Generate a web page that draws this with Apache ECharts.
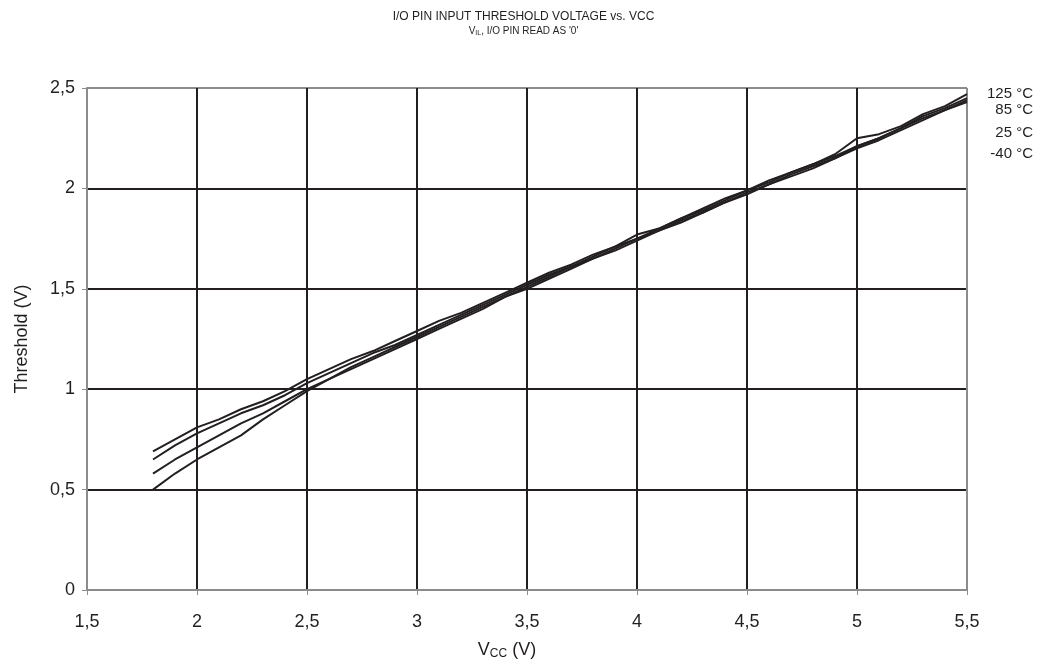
<!DOCTYPE html>
<html>
<head>
<meta charset="utf-8">
<script src="https://cdn.jsdelivr.net/npm/echarts@6/dist/echarts.min.js"></script>
<style>
  html, body { margin: 0; padding: 0; background: #fff; }
  #chart { width: 1047px; height: 669px; }
</style>
</head>
<body>
<div id="chart"></div>
<script>
// supply voltage (V)
var vcc = [1.8, 1.9, 2.0, 2.1, 2.2, 2.3, 2.4, 2.5, 2.6, 2.7, 2.8, 2.9, 3.0, 3.1, 3.2, 3.3, 3.4, 3.5, 3.6,
  3.7, 3.8, 3.9, 4.0, 4.1, 4.2, 4.3, 4.4, 4.5, 4.6, 4.7, 4.8, 4.9, 5.0, 5.1, 5.2, 5.3, 5.4, 5.5];
var temps = ["125 °C", "85 °C", "25 °C", "-40 °C"];
// threshold (V) per temperature
var t125 = [0.69, 0.75, 0.81, 0.85, 0.90, 0.94, 0.99, 1.05, 1.10, 1.15, 1.19, 1.24, 1.29, 1.34, 1.38, 1.43, 1.48, 1.53, 1.58,
  1.62, 1.67, 1.71, 1.77, 1.80, 1.85, 1.90, 1.95, 1.99, 2.04, 2.08, 2.12, 2.16, 2.21, 2.25, 2.30, 2.36, 2.40, 2.45];
var t85 = [0.65, 0.72, 0.78, 0.83, 0.88, 0.92, 0.97, 1.03, 1.08, 1.13, 1.18, 1.22, 1.27, 1.32, 1.37, 1.42, 1.47, 1.52, 1.57,
  1.61, 1.66, 1.71, 1.75, 1.80, 1.85, 1.89, 1.94, 1.99, 2.03, 2.08, 2.12, 2.17, 2.25, 2.27, 2.31, 2.37, 2.41, 2.47];
var t25 = [0.58, 0.65, 0.71, 0.77, 0.83, 0.88, 0.94, 1.00, 1.05, 1.11, 1.16, 1.21, 1.26, 1.31, 1.36, 1.41, 1.46, 1.51, 1.56,
  1.61, 1.65, 1.70, 1.75, 1.79, 1.84, 1.88, 1.93, 1.98, 2.02, 2.07, 2.11, 2.15, 2.21, 2.25, 2.30, 2.35, 2.39, 2.44];
var tm40 = [0.50, 0.58, 0.65, 0.71, 0.77, 0.85, 0.92, 0.99, 1.05, 1.10, 1.15, 1.20, 1.25, 1.30, 1.35, 1.40, 1.46, 1.50, 1.55,
  1.60, 1.65, 1.69, 1.74, 1.79, 1.83, 1.88, 1.93, 1.97, 2.02, 2.06, 2.10, 2.15, 2.20, 2.24, 2.29, 2.34, 2.39, 2.43];

var curves = [t125, t85, t25, tm40];
var ink = "#231f20";
var frame = "#8c8c8c";
var font = "Liberation Sans, Arial, sans-serif";

function comma(v) { return String(v).replace(".", ","); }

var chart = echarts.init(document.getElementById("chart"));

var series = curves.map(function (ys, i) {
  return {
    name: temps[i],
    type: "line",
    data: vcc.map(function (x, k) { return [x, ys[k]]; }),
    showSymbol: false,
    lineStyle: { color: ink, width: 2 },
    z: 3
  };
});

// temperature labels on the right
var labelY = [95, 111, 134, 155];
var graphics = temps.map(function (t, i) {
  return {
    type: "text",
    right: 14,
    top: labelY[i] - 9,
    style: { text: t, fill: ink, font: "15px " + font, textAlign: "right" }
  };
});

var option = {
  animation: false,
  backgroundColor: "#fff",
  title: {
    text: "I/O PIN INPUT THRESHOLD VOLTAGE vs. VCC",
    subtext: "{n|V}{s|IL}{n|, I/O PIN READ AS '0'}",
    left: "center",
    top: 6,
    itemGap: 3,
    textStyle: { color: ink, fontSize: 12, fontWeight: "normal", fontFamily: font },
    subtextStyle: {
      color: ink,
      fontSize: 10,
      fontFamily: font,
      rich: {
        n: { fontSize: 10, fontFamily: font, color: ink },
        s: { fontSize: 7, fontFamily: font, color: ink, verticalAlign: "bottom", padding: [4, 0, 0, 0] }
      }
    }
  },
  grid: { left: 87, right: 80, top: 88, bottom: 79, containLabel: false },
  xAxis: {
    type: "value",
    min: 1.5,
    max: 5.5,
    interval: 0.5,
    name: "{n|V}{s|CC}{n| (V)}",
    nameLocation: "middle",
    nameGap: 50,
    nameTextStyle: {
      padding: [0, 40, 0, 0],
      rich: {
        n: { fontSize: 18, fontFamily: font, color: ink },
        s: { fontSize: 12, fontFamily: font, color: ink, padding: [8, 0, 0, 0] }
      }
    },
    axisLine: { show: true, lineStyle: { color: frame, width: 2 } },
    axisTick: { show: true, length: 5, lineStyle: { color: frame, width: 1 } },
    axisLabel: { color: ink, fontSize: 18, fontFamily: font, margin: 23, formatter: comma },
    splitLine: {
      show: true,
      lineStyle: { color: [frame, ink, ink, ink, ink, ink, ink, ink, frame], width: 2 }
    }
  },
  yAxis: {
    type: "value",
    min: 0,
    max: 2.5,
    interval: 0.5,
    name: "Threshold (V)",
    nameLocation: "middle",
    nameGap: 56,
    nameTextStyle: { color: ink, fontSize: 18, fontFamily: font },
    axisLine: { show: true, lineStyle: { color: frame, width: 2 } },
    axisTick: { show: true, length: 5, lineStyle: { color: frame, width: 1 } },
    axisLabel: { color: ink, fontSize: 18, fontFamily: font, margin: 12, formatter: comma },
    splitLine: {
      show: true,
      lineStyle: { color: [frame, ink, ink, ink, ink, frame], width: 2 }
    }
  },
  graphic: graphics,
  series: series
};

chart.setOption(option);
</script>
</body>
</html>
